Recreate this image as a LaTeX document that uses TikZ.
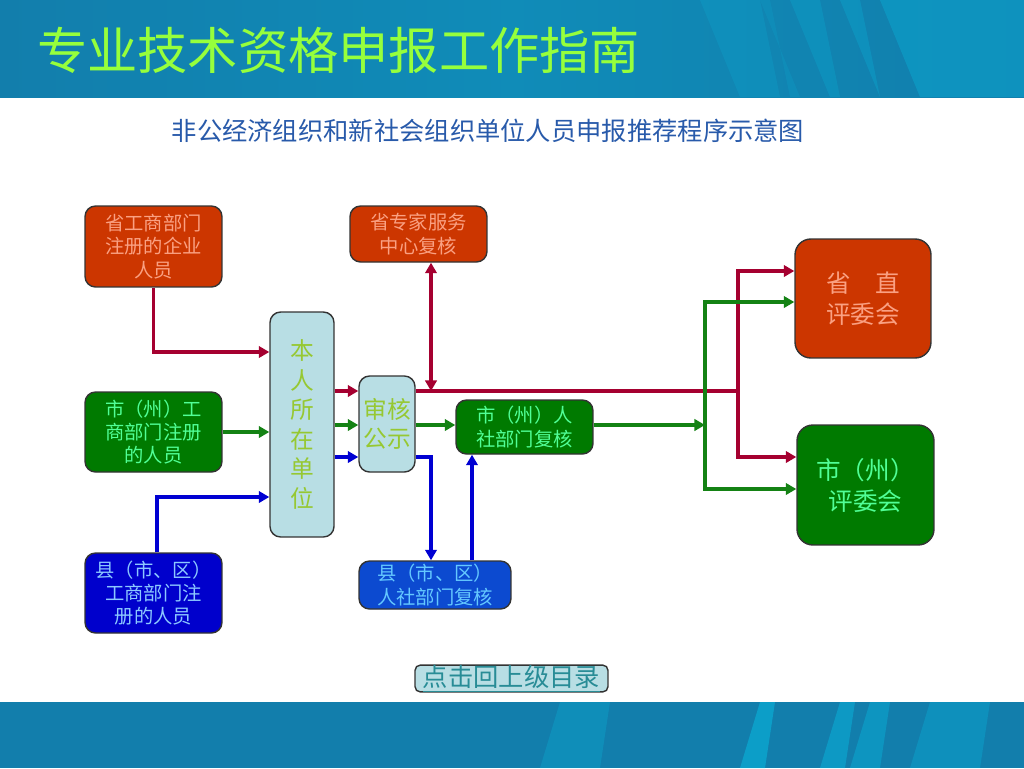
\documentclass[tikz,border=0pt]{standalone}
\usepackage{fontspec}
\setmainfont{Noto Sans CJK SC}
\usepackage{tikz}
\usetikzlibrary{calc,positioning,arrows.meta}
\definecolor{barblue}{RGB}{18,126,172}
\definecolor{barlight}{RGB}{10,172,212}
\definecolor{titlegreen}{RGB}{150,255,60}
\definecolor{subblue}{RGB}{40,90,170}
\definecolor{orgfill}{RGB}{204,54,0}
\definecolor{orgtext}{RGB}{250,160,130}
\definecolor{grnfill}{RGB}{0,122,0}
\definecolor{grntext}{RGB}{80,255,150}
\definecolor{blufill}{RGB}{0,0,204}
\definecolor{blutext}{RGB}{140,200,255}
\definecolor{cblufill}{RGB}{12,74,208}
\definecolor{cblutext}{RGB}{100,200,255}
\definecolor{palefill}{RGB}{184,222,228}
\definecolor{paletext}{RGB}{150,200,50}
\definecolor{redline}{RGB}{165,0,48}
\definecolor{grnline}{RGB}{20,130,20}
\definecolor{bluline}{RGB}{0,0,210}
\definecolor{linkteal}{RGB}{40,140,150}

\begin{document}
\begin{tikzpicture}[x=0.02cm, y=-0.02cm,
  box/.style={draw=black!80, line width=0.8pt, rounded corners=6pt, align=center,
    inner sep=0pt, font=\fontsize{11}{13.3}\selectfont},
  orgbox/.style={box, fill=orgfill, text=orgtext},
  grnbox/.style={box, fill=grnfill, text=grntext},
  blubox/.style={box, fill=blufill, text=blutext},
  palebox/.style={box, fill=palefill, text=paletext, font=\fontsize{13.5}{16.8}\selectfont},
  conn/.style={line width=2.1pt, -{Triangle[length=6pt,width=6.5pt]}},
  redarr/.style={conn, draw=redline},
  grnarr/.style={conn, draw=grnline},
  bluarr/.style={conn, draw=bluline}]
  \useasboundingbox (0,0) rectangle (1024,768);
  \fill[white] (0,0) rectangle (1024,768);

  % Title and bottom bars
  \shade[left color=barblue, right color=barblue, middle color=barblue!70!barlight]
    (0,0) rectangle (1024,97);
  \foreach \xa/\xb/\op in {700/760/0.25, 790/820/0.3, 840/860/0.35, 880/1024/0.45, 760/770/0.2}{
    \fill[barlight, opacity=\op] (\xa,0) -- (\xb,0) -- (\xb+20,97) -- (\xa+40,97) -- cycle;
  }
  \fill[barblue] (0,702) rectangle (1024,768);
  \foreach \xa/\xb/\op in {560/610/0.35, 760/775/0.7, 840/855/0.6, 870/890/0.5, 930/990/0.4}{
    \fill[barlight, opacity=\op] (\xa,702) -- (\xb,702) -- (\xb-10,768) -- (\xa-20,768) -- cycle;
  }
  \node[font=\fontsize{28.6}{30}\selectfont, text=titlegreen, anchor=west] (title) at (31,50)
    {专业技术资格申报工作指南};
  \node[font=\fontsize{14.4}{16}\selectfont, text=subblue] (subtitle) at (488,131)
    {非公经济组织和新社会组织单位人员申报推荐程序示意图};

  % Boxes
  \node[orgbox, minimum width=2.74cm, minimum height=1.62cm] (provbiz) at (153.5,246.5)
    {省工商部门\\注册的企业\\人员};
  \node[orgbox, minimum width=2.74cm, minimum height=1.12cm] (expert) at (418.5,234)
    {省专家服务\\中心复核};
  \node[grnbox, minimum width=2.74cm, minimum height=1.60cm] (citybiz) at (153.5,432)
    {市（州）工\\商部门注册\\的人员};
  \node[blubox, minimum width=2.74cm, minimum height=1.60cm] (cntybiz) at (153.5,593)
    {县（市、区）\\工商部门注\\册的人员};
  \node[palebox, minimum width=1.28cm, minimum height=4.5cm] (unit) at (302,424.5)
    {本\\人\\所\\在\\单\\位};
  \node[palebox, minimum width=1.12cm, minimum height=1.92cm] (audit) at (387,424)
    {审核\\公示};
  \node[grnbox, minimum width=2.74cm, minimum height=1.08cm] (cityrev) at (524.5,427)
    {市（州）人\\社部门复核};
  \node[box, fill=cblufill, text=cblutext, minimum width=3.04cm, minimum height=0.96cm]
    (cntyrev) at (435,585) {县（市、区）\\人社部门复核};
  \node[orgbox, rounded corners=9pt, minimum width=2.72cm, minimum height=2.38cm,
    font=\fontsize{14}{17.6}\selectfont] (provcom) at (863,298.5) {省\hspace{1em}直\\评委会};
  \node[grnbox, rounded corners=9pt, minimum width=2.74cm, minimum height=2.40cm,
    font=\fontsize{14}{17.6}\selectfont] (citycom) at (865.5,485) {市（州）\\评委会};
  \node[box, fill=palefill, text=linkteal, rounded corners=3pt, minimum width=3.86cm,
    minimum height=0.46cm, font=\fontsize{14.4}{15}\selectfont] (back) at (511.5,678.5)
    {\underline{点击回上级目录}};

  % Junctions
  \coordinate (redbus) at (738,391);
  \coordinate (grnbus) at (705,425);

  % Into the unit
  \draw[redarr] (provbiz.south) |- (unit.west |- 0,352);
  \draw[grnarr] (citybiz.east) -- (unit.west |- citybiz.east);
  \draw[bluarr] (cntybiz.north -| 157,0) |- (unit.west |- 0,497);

  % Unit to audit
  \draw[redarr] (unit.east |- 0,391) -- (audit.west |- 0,391);
  \draw[grnarr] (unit.east |- 0,425) -- (audit.west |- 0,425);
  \draw[bluarr] (unit.east |- 0,457) -- (audit.west |- 0,457);

  % Red route
  \draw[redline, line width=2.1pt] (audit.east |- 0,391) -- (redbus);
  \draw[redarr, {Triangle[length=6pt,width=6.5pt]}-{Triangle[length=6pt,width=6.5pt]}]
    (expert.south -| 431,0) -- (431,391);
  \draw[redarr] (redbus) |- (provcom.west |- 0,271);
  \draw[redarr] (redbus) |- (citycom.west |- 0,457);

  % Green route
  \draw[grnarr] (audit.east |- 0,425) -- (cityrev.west |- 0,425);
  \draw[grnarr] (cityrev.east |- 0,425) -- (grnbus);
  \draw[grnarr] (grnbus) |- (provcom.west |- 0,302);
  \draw[grnarr] (grnbus) |- (citycom.west |- 0,489);

  % Blue route
  \draw[bluarr] (audit.east |- 0,457) -| (cntyrev.north -| 431,0);
  \draw[bluarr] (cntyrev.north -| 472,0) -- (cityrev.south -| 472,0);
\end{tikzpicture}
\end{document}
